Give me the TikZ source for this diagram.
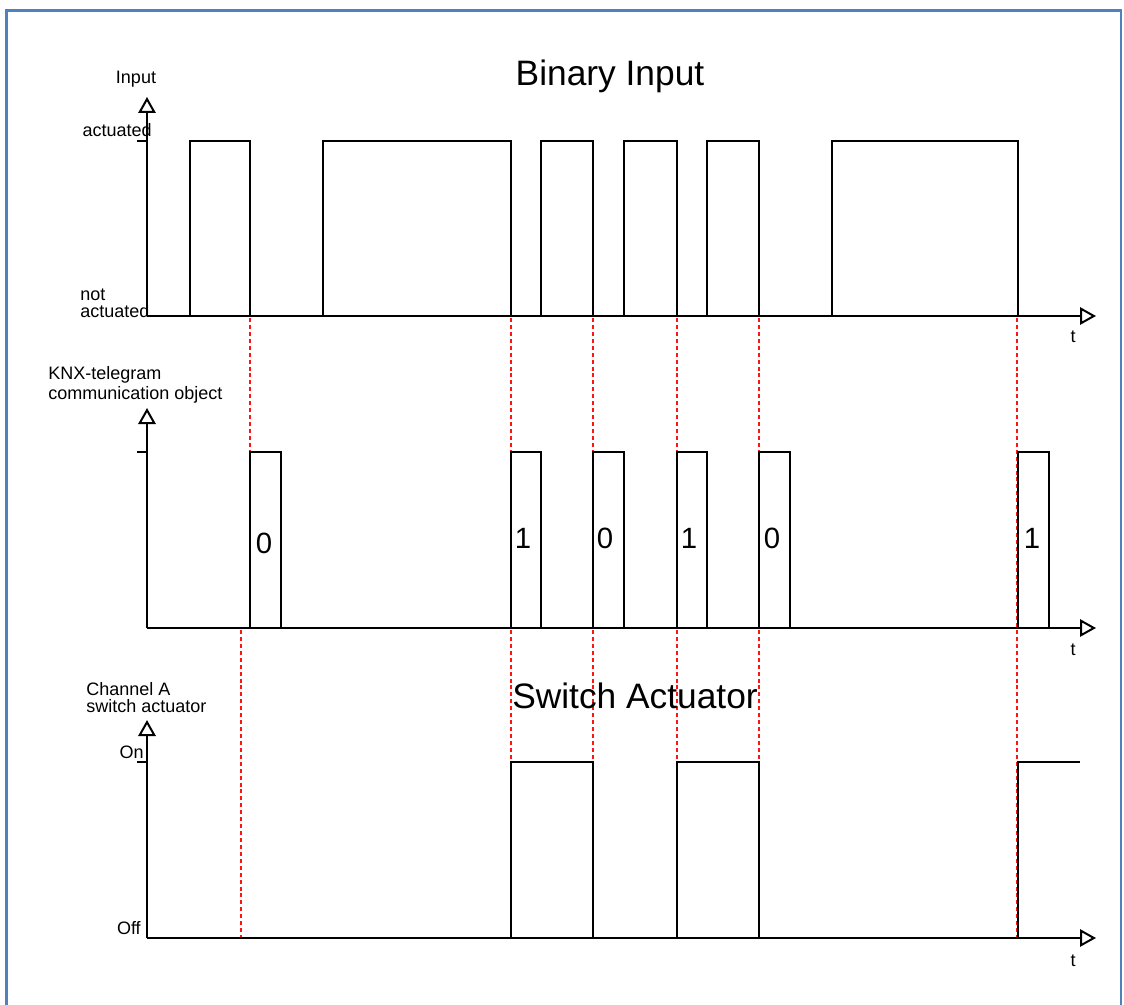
\documentclass[tikz,border=0pt]{standalone}
\usepackage{fontspec}
\setmainfont{Liberation Sans}
\usetikzlibrary{arrows.meta}
\begin{document}
\begin{tikzpicture}[x=0.75pt,y=-0.75pt,
  wave/.style={line width=1.6pt,black,line join=miter},
  axis/.style={line width=1.6pt,black,-{Triangle[open,length=12pt,width=13pt,line width=1.5pt]}},
  tickmark/.style={line width=1.2pt,black},
  sync/.style={line width=1.6pt,color={rgb,255:red,255;green,20;blue,20},dash pattern=on 3pt off 2.2pt},
  lbl/.style={inner sep=0pt,font=\fontsize{13.5}{11}\selectfont},
  title/.style={inner sep=0pt,font=\fontsize{26.5}{30}\selectfont},
  digit/.style={inner sep=0pt,font=\fontsize{22}{26}\selectfont}]
\useasboundingbox (0,0) rectangle (1124,1005);
% frame
\draw[line width=1.6pt,color={rgb,255:red,79;green,129;blue,189}] (6.5,1010) -- (6.5,10.5) -- (1121,10.5) -- (1121,1010);

% red sync lines
\draw[sync] (250,318) -- (250,452);
\foreach \xx in {511,593,677,759}{
  \draw[sync] (\xx,318) -- (\xx,452);
  \draw[sync] (\xx,630) -- (\xx,762);
}
\draw[sync] (1017,318) -- (1017,938);
\draw[sync] (241,630) -- (241,938);

% ---------- Binary input ----------
\draw[axis] (147,316) -- (147,97);
\draw[axis] (147,316) -- (1096,316);
\draw[tickmark] (137,141) -- (147,141);
\draw[wave] (147,316) -- (190,316) -- (190,141) -- (250,141) -- (250,316)
  -- (323,316) -- (323,141) -- (511,141) -- (511,316)
  -- (541,316) -- (541,141) -- (593,141) -- (593,316)
  -- (624,316) -- (624,141) -- (677,141) -- (677,316)
  -- (707,316) -- (707,141) -- (759,141) -- (759,316)
  -- (832,316) -- (832,141) -- (1018,141) -- (1018,316);
\node[title,anchor=base] (t1) at (610,86) {Binary Input};
\node[lbl,anchor=base] (yl1) at (136,84) {Input};
\node[lbl,anchor=base east] (act) at (152,137) {actuated};
\node[lbl,anchor=base west] (na1) at (80,301) {not};
\node[lbl,anchor=base west] (na2) at (80,318) {actuated};
\node[lbl,anchor=base] (tt1) at (1073,343) {t};

% ---------- KNX telegram ----------
\draw[axis] (147,628) -- (147,408);
\draw[axis] (147,628) -- (1096,628);
\draw[tickmark] (137,452) -- (147,452);
\foreach \xa/\xb in {250/281,511/541,593/624,677/707,759/790,1018/1049}{
  \draw[wave] (\xa,628) -- (\xa,452) -- (\xb,452) -- (\xb,628);
}
\node[lbl,anchor=base west] (k1) at (48,380) {KNX-telegram};
\node[lbl,anchor=base west] (k2) at (48,399) {communication object};
\node[digit,anchor=base] (d1) at (264,553) {0};
\node[digit,anchor=base] (d2) at (523,548) {1};
\node[digit,anchor=base] (d3) at (605,548) {0};
\node[digit,anchor=base] (d4) at (689,548) {1};
\node[digit,anchor=base] (d5) at (772,548) {0};
\node[digit,anchor=base] (d6) at (1032,548) {1};
\node[lbl,anchor=base] (tt2) at (1073,655) {t};

% ---------- Switch actuator ----------
\draw[axis] (147,938) -- (147,720);
\draw[axis] (147,938) -- (1096,938);
\draw[tickmark] (137,762) -- (147,762);
\draw[wave] (511,938) -- (511,762) -- (593,762) -- (593,938);
\draw[wave] (677,938) -- (677,762) -- (759,762) -- (759,938);
\draw[wave] (1018,938) -- (1018,762) -- (1080,762);
\node[title,anchor=base] (t2) at (635,708) {Switch Actuator};
\node[lbl,anchor=base west] (c1) at (86,695) {Channel A};
\node[lbl,anchor=base west] (c2) at (86,712) {switch actuator};
\node[lbl,anchor=base east] (on) at (144,758) {On};
\node[lbl,anchor=base east] (off) at (141,934) {Off};
\node[lbl,anchor=base] (tt3) at (1073,966) {t};
\end{tikzpicture}
\end{document}
